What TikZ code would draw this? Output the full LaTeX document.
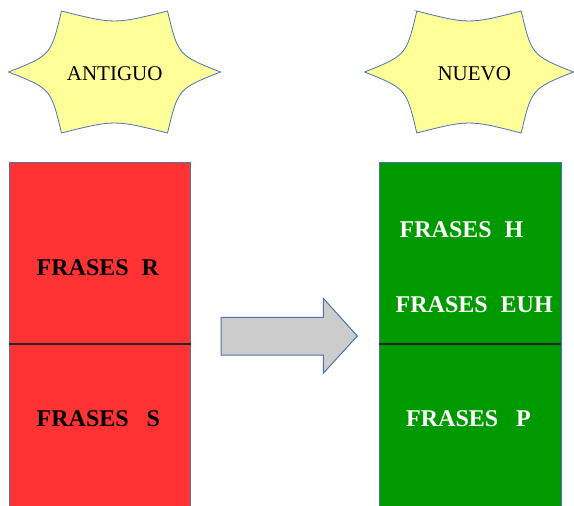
\documentclass[tikz,border=0pt]{standalone}
\usepackage{fontspec}
\setmainfont{Liberation Serif}
\definecolor{bordblue}{HTML}{4A72B0}
\definecolor{staryellow}{HTML}{FFFF99}
\definecolor{boxred}{HTML}{FF3333}
\definecolor{boxgreen}{HTML}{009900}
\definecolor{arrgray}{HTML}{CCCCCC}
\begin{document}
\begin{tikzpicture}[x=1pt,y=-1pt,
  starfill/.style={fill=staryellow, draw=bordblue, line width=0.8pt},
  box/.style={draw=bordblue, line width=0.8pt, inner sep=0pt, outer sep=0pt, anchor=north west},
  redbox/.style={box, fill=boxred},
  greenbox/.style={box, fill=boxgreen},
  divider/.style={draw=black!85, line width=1.2pt},
  lbl/.style={inner sep=0pt, anchor=base west, font=\fontsize{24}{24}\selectfont\bfseries},
  starlbl/.style={inner sep=0pt, anchor=base west, font=\fontsize{21}{21}\selectfont},
  arrowshape/.style={fill=arrgray, draw=bordblue, line width=1pt, line join=miter},
  curvystar/.pic={\path[starfill] (-53,-61) .. controls (0,-47.7) .. (53,-61)
      .. controls (63.6,-16.7) .. (106,0)
      .. controls (63.6,16.7) .. (53,61)
      .. controls (0,47.7) .. (-53,61)
      .. controls (-63.6,16.7) .. (-106,0)
      .. controls (-63.6,-16.7) .. cycle;}
]
\useasboundingbox (0,0) rectangle (574,506);
\clip (0,0) rectangle (574,506);
% stars
\pic at (114.5,72) {curvystar};
\pic[xscale=0.985] at (469,72) {curvystar};
\node[starlbl] (ant) at (66.7,80) {ANTIGUO};
\node[starlbl] (nue) at (437.3,80) {NUEVO};
% boxes
\node[redbox, minimum width=181.4pt, minimum height=182pt] (rtop) at (9.3,162) {};
\node[redbox, minimum width=181.4pt, minimum height=180pt] (rbot) at (9.3,344) {};
\node[greenbox, minimum width=182pt, minimum height=182pt] (gtop) at (379.3,162) {};
\node[greenbox, minimum width=182pt, minimum height=180pt] (gbot) at (379.3,344) {};
\draw[divider] (rtop.south west) -- (rtop.south east);
\draw[divider] (gtop.south west) -- (gtop.south east);
% arrow
\path[arrowshape] (221,317.3) -- (323.3,317.3) -- (323.3,298.3) -- (357.3,336)
  -- (323.3,373.3) -- (323.3,355) -- (221,355) -- cycle;
% labels
\node[lbl] (fr) at (36.5,275) {FRASES\hspace{13pt}R};
\node[lbl] (fs) at (36.5,426) {FRASES\hspace{18pt}S};
\node[lbl, text=white] (fh) at (399.5,237.3) {FRASES\hspace{13pt}H};
\node[lbl, text=white] (feuh) at (395.5,312.3) {FRASES\hspace{13pt}EUH};
\node[lbl, text=white] (fp) at (406,426) {FRASES\hspace{18pt}P};
\end{tikzpicture}
\end{document}
